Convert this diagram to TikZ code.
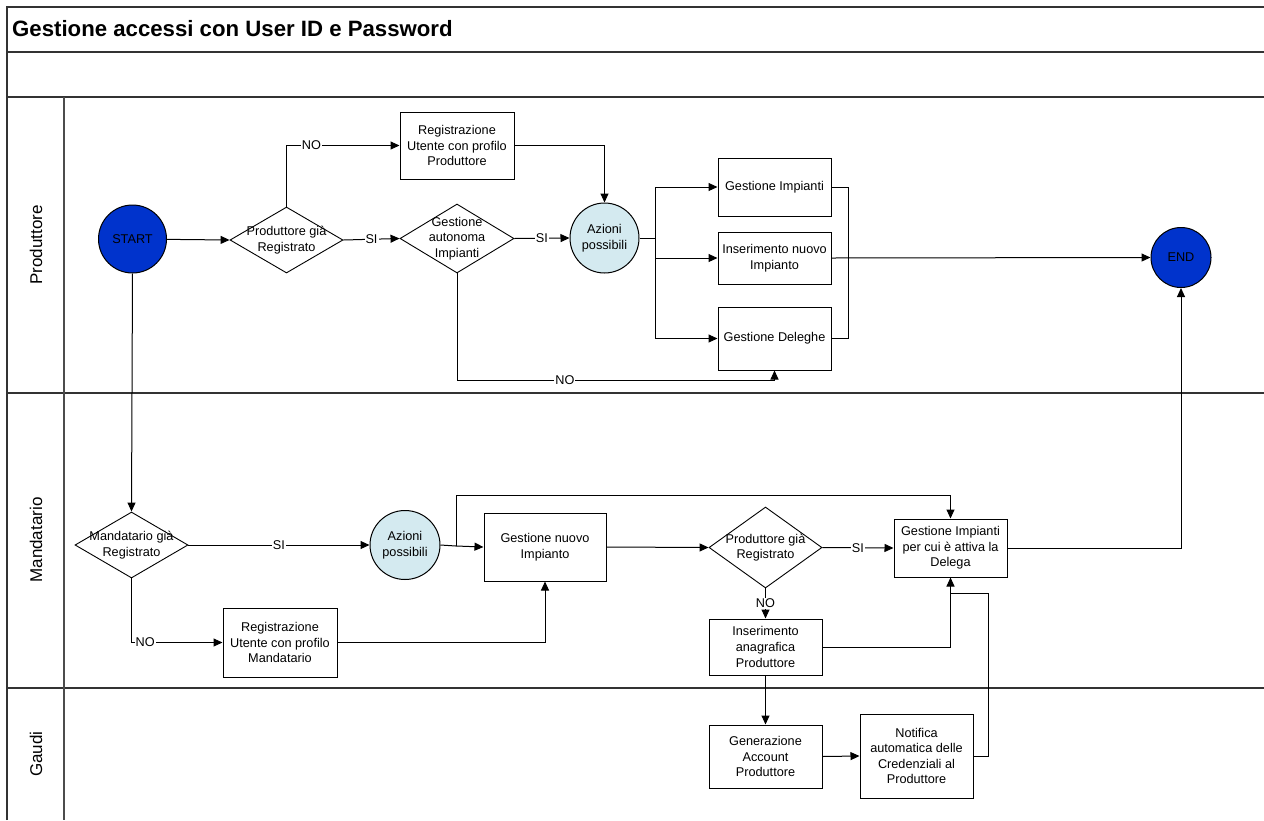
\documentclass[tikz,border=0pt]{standalone}
\usepackage{fontspec}
\setmainfont{Liberation Sans}
\usetikzlibrary{arrows.meta,shapes.geometric}
\definecolor{termblue}{HTML}{0033CC}
\definecolor{actblue}{HTML}{D4EAF0}
\definecolor{framegray}{HTML}{333333}
\tikzset{
  every node/.style={font=\fontsize{12.7}{15.6}\selectfont},
  frame/.style={line width=2pt,draw=framegray},
  lanecol/.style={line width=1.2pt,draw=black!70},
  stepbox/.style={draw,line width=1pt,rectangle,align=center,inner sep=2pt},
  decision/.style={draw,line width=0.9pt,diamond,inner sep=0pt},
  dectext/.style={align=center,inner sep=0pt},
  terminal/.style={draw,line width=1pt,circle,fill=termblue,inner sep=0pt},
  actions/.style={draw,line width=1pt,ellipse,fill=actblue,align=center,inner sep=0pt},
  conn/.style={line width=1pt},
  arr/.style={conn,-{Triangle[length=9pt,width=8pt]}},
  lab/.style={fill=white,inner sep=1pt},
  lanelabel/.style={rotate=90,font=\fontsize{17}{20}\selectfont}
}
\begin{document}
\begin{tikzpicture}[x=1pt,y=-1pt]
\useasboundingbox (0,0) rectangle (1264,820);

% swimlane frame
\draw[frame] (7,820) -- (7,7) -- (1264,7);
\draw[frame] (7,52) -- (1264,52);
\draw[frame] (7,97) -- (1264,97);
\draw[frame] (7,393) -- (1264,393);
\draw[frame] (7,688) -- (1264,688);
\draw[lanecol] (64,97) -- (64,820);

\node[anchor=base west,inner sep=0pt,font=\fontsize{22.2}{26}\selectfont\bfseries] (title) at (12,36) {Gestione accessi con User ID e Password};

\node[lanelabel] (laneP) at (36,245) {Produttore};
\node[lanelabel] (laneM) at (36,540) {Mandatario};
\node[lanelabel] (laneG) at (36,754) {Gaudi};

% Produttore lane
\node[terminal,minimum size=68pt] (start) at (132.5,239) {START};
\node[decision,minimum width=113pt,minimum height=66pt] (d1) at (286.5,240) {};
\node[dectext] (d1t) at (d1.center) {Produttore già\\Registrato};
\node[stepbox,minimum width=114pt,minimum height=67pt] (regP) at (457,145.5) {Registrazione\\Utente con profilo\\Produttore};
\node[decision,minimum width=114pt,minimum height=69pt] (d2) at (457,238.5) {};
\node[dectext] (d2t) at (d2.center) {Gestione\\autonoma\\Impianti};
\node[actions,minimum width=69pt,minimum height=70pt] (az1) at (604.5,238) {Azioni\\possibili};
\node[stepbox,minimum width=113pt,minimum height=58pt] (gi) at (774.5,187) {Gestione Impianti};
\node[stepbox,minimum width=113pt,minimum height=52pt] (ins) at (774.5,258) {Inserimento nuovo\\Impianto};
\node[stepbox,minimum width=113pt,minimum height=63pt] (gd) at (774.5,338.5) {Gestione Deleghe};
\node[terminal,minimum size=60pt] (end) at (1181,257.5) {END};

% Mandatario lane
\node[decision,minimum width=113pt,minimum height=66pt] (dm) at (131.5,545) {};
\node[dectext] (dmt) at (dm.center) {Mandatario già\\Registrato};
\node[actions,minimum width=70pt,minimum height=69pt] (az2) at (405,545) {Azioni\\possibili};
\node[stepbox,minimum width=114pt,minimum height=69pt] (regM) at (280,642.5) {Registrazione\\Utente con profilo\\Mandatario};
\node[stepbox,minimum width=122pt,minimum height=68pt] (gn) at (545,547) {Gestione nuovo\\Impianto};
\node[decision,minimum width=113pt,minimum height=81pt] (d3) at (765.5,547.5) {};
\node[dectext] (d3t) at (d3.center) {Produttore già\\Registrato};
\node[stepbox,minimum width=113pt,minimum height=58pt] (gip) at (950.5,548) {Gestione Impianti\\per cui è attiva la\\Delega};
\node[stepbox,minimum width=113pt,minimum height=56pt] (ia) at (765.5,647) {Inserimento\\anagrafica\\Produttore};

% Gaudi lane
\node[stepbox,minimum width=113pt,minimum height=63pt] (gen) at (765.5,756.5) {Generazione\\Account\\Produttore};
\node[stepbox,minimum width=113pt,minimum height=84pt] (notif) at (916.5,756) {Notifica\\automatica delle\\Credenziali al\\Produttore};

% junction points
\coordinate (b1) at (655,238);
\coordinate (m1) at (848,258);
\coordinate (nob) at (774.5,380);
\coordinate (j2) at (456,546);
\coordinate (j2t) at (456,495);
\coordinate (nt) at (988,593);

% Produttore connectors
\draw[arr] (start) -- (d1.west);
\draw[arr] (d1.north) |- node[lab,pos=0.61]{NO} (regP.west);
\draw[arr] (d1.east) -- node[lab]{SI} (d2.west);
\draw[arr] (d2.east) -- node[lab]{SI} (az1.west);
\draw[arr] (regP.east) -| (az1.north);
\draw[conn] (az1.east) -- (b1);
\draw[arr] (b1) |- (gi.west);
\draw[arr] (b1) |- (ins.west);
\draw[arr] (b1) |- (gd.west);
\draw[conn] (gi.east) -| (m1);
\draw[conn] (gd.east) -| (m1);
\draw[arr] (ins.east) -- (end.west);
\draw[conn] (d2.south) |- node[lab,pos=0.67]{NO} (nob);
\draw[arr] (nob) -- (gd.south);

% Mandatario connectors
\draw[arr] (start.south) -- (dm.north);
\draw[arr] (dm.east) -- node[lab]{SI} (az2.west);
\draw[arr] (dm.south) |- node[lab,pos=0.575]{NO} (regM.west);
\draw[arr] (regM.east) -| (gn.south);
\draw[conn] (az2.east) -- (j2);
\draw[arr] (j2) -- (gn.west);
\draw[arr] (j2) -- (j2t) -| (gip.north);
\draw[arr] (gn.east) -- (d3.west);
\draw[arr] (d3.east) -- node[lab]{SI} (gip.west);
\draw[arr] (d3.south) -- node[lab]{NO} (ia.north);
\draw[arr] (ia.east) -| (gip.south);
\draw[arr] (gip.east) -| (end.south);

% Gaudi connectors
\draw[arr] (ia.south) -- (gen.north);
\draw[arr] (gen.east) -- (notif.west);
\draw[conn] (notif.east) -| (nt) -- (nt -| gip.south);
\end{tikzpicture}
\end{document}
